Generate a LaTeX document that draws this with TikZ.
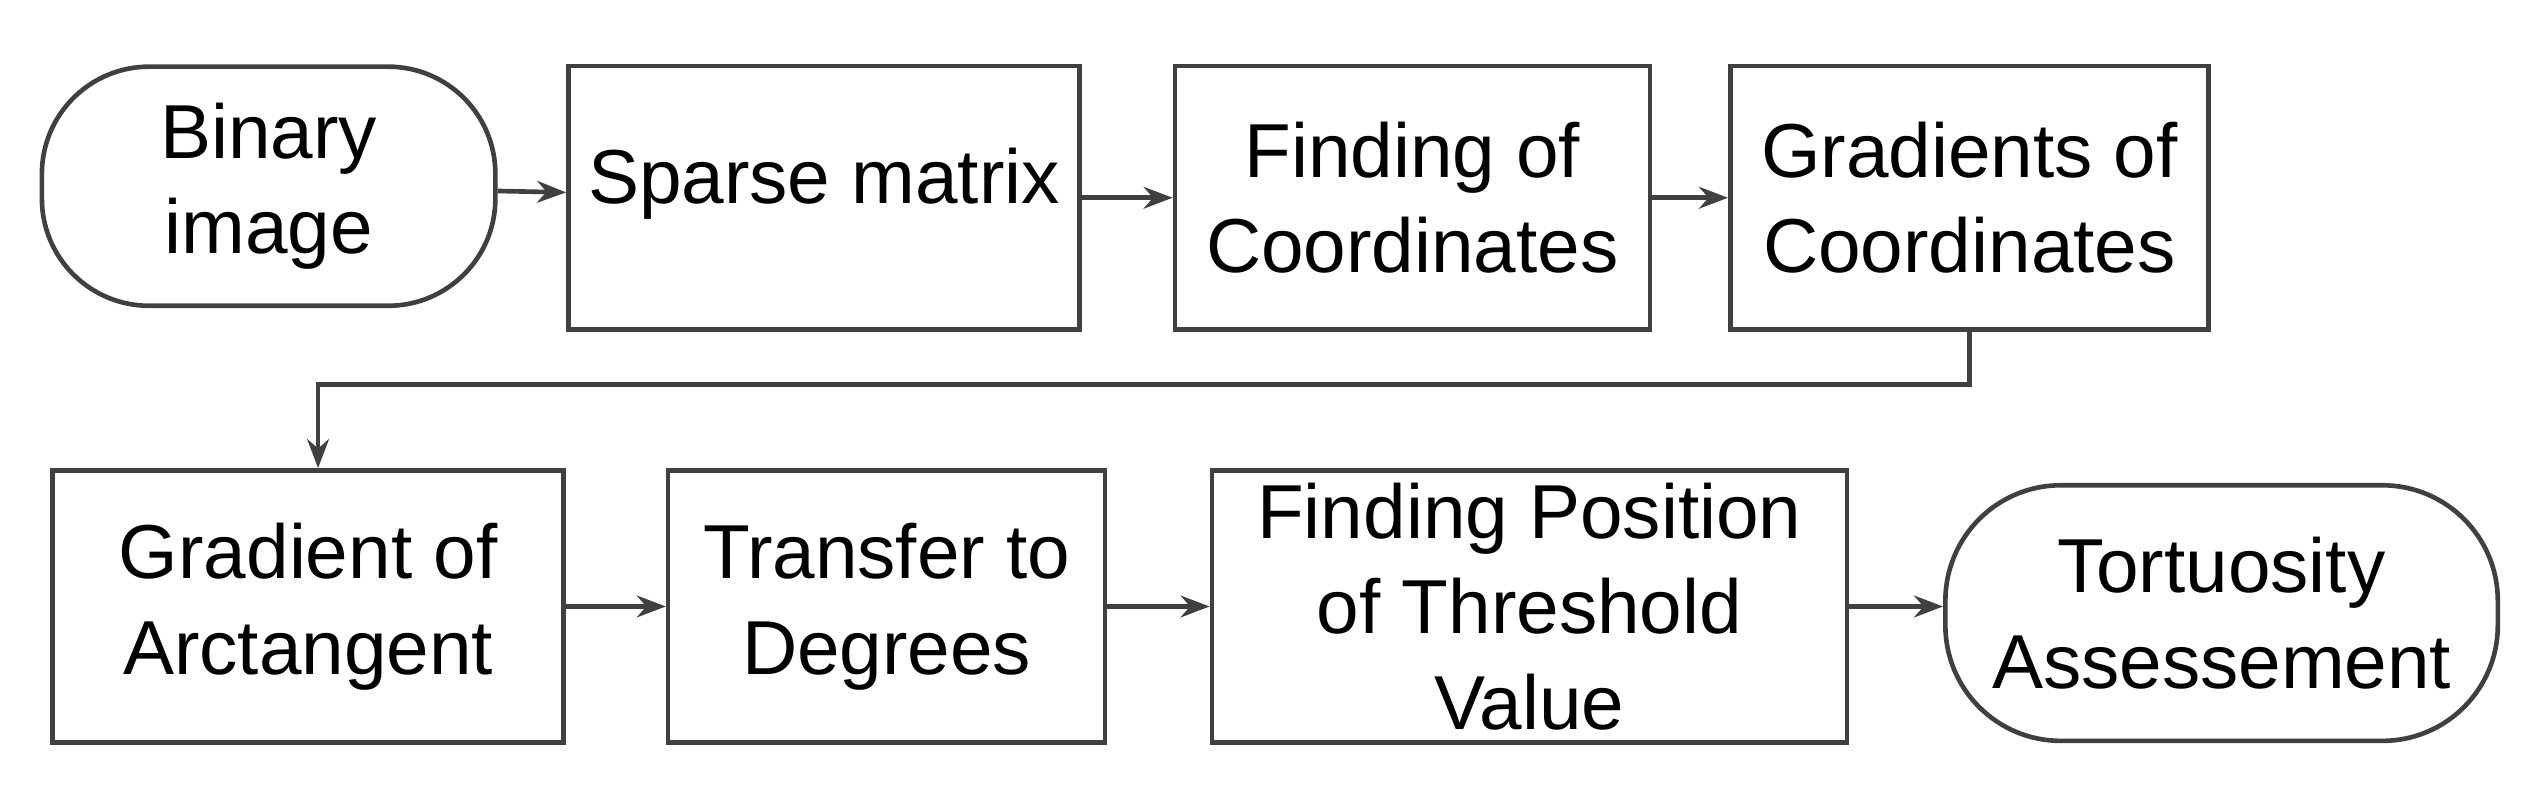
\documentclass[tikz,border=0pt]{standalone}
\usepackage{fontspec}
\setmainfont{Liberation Sans}
\usetikzlibrary{arrows.meta}

\begin{document}
\begin{tikzpicture}[x=0.01cm,y=-0.01cm]
		\useasboundingbox (0,0) rectangle (1540,485);
		\begin{scope}[every node/.style={draw=black!75,thick,align=center,inner sep=0pt,
					  font=\fontsize{13.2}{16.5}\selectfont}]
			\node[rounded corners=0.65cm,minimum width=2.75cm,minimum height=1.45cm] (bin) at (163,113) {Binary\\image};
			\node[minimum width=3.1cm,minimum height=1.6cm] (sparse) at (500,120) {Sparse matrix\\[-2ex]\strut};
			\node[minimum width=2.88cm,minimum height=1.6cm] (findc) at (857,120) {Finding of\\Coordinates};
			\node[minimum width=2.9cm,minimum height=1.6cm] (gradc) at (1195,120) {Gradients of\\Coordinates};
			\node[minimum width=3.1cm,minimum height=1.65cm] (arct) at (187,368) {Gradient of\\Arctangent};
			\node[minimum width=2.65cm,minimum height=1.65cm] (deg) at (538,368) {Transfer to\\Degrees};
			\node[minimum width=3.85cm,minimum height=1.65cm] (thr) at (928,368) {Finding Position\\of Threshold\\Value};
			\node[rounded corners=0.7cm,minimum width=3.35cm,minimum height=1.55cm] (tort) at (1348,372) {Tortuosity\\Assessement};
		\end{scope}
		
		\begin{scope}[every path/.style={draw=black!75,thick,-{Stealth[length=5pt]}}]
			\path (bin) -- (sparse);
			\path (sparse) -- (findc);
			\path (findc) -- (gradc);
			\path (gradc.south) -- ++(0,32) -| (arct.north -| 193,0);
			\path (arct) -- (deg);
			\path (deg) -- (thr);
			\path (thr.east) -- (thr.east -| tort.west);
		\end{scope}
	\end{tikzpicture}
\end{document}
